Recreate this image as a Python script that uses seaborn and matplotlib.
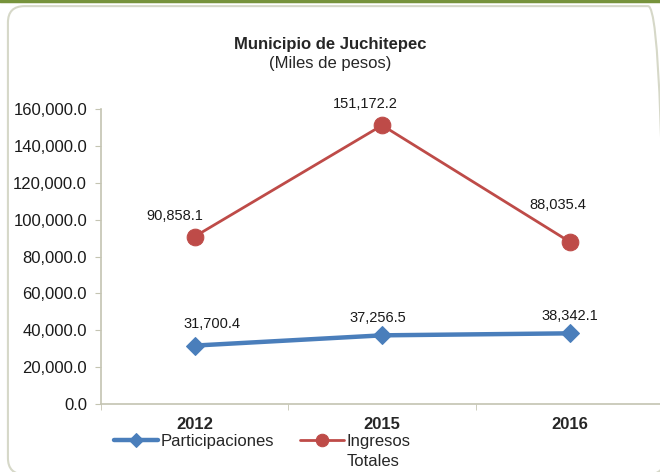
import numpy as np
import pandas as pd
import seaborn as sns
import matplotlib.pyplot as plt
from matplotlib.patches import FancyBboxPatch
from matplotlib.ticker import FuncFormatter

years = ["2012", "2015", "2016"]
participaciones = [31700.4, 37256.5, 38342.1]
ingresos_totales = [90858.1, 151172.2, 88035.4]
series_names = ["Participaciones", "Ingresos\nTotales"]
yticks = [0, 20000, 40000, 60000, 80000, 100000, 120000, 140000, 160000]

# label offsets in pixels (dx, dy above point)
offs_part = [(17, 22), (-4, 17), (0, 17)]
offs_ing = [(-20, 21), (-17, 21), (-12, 37)]

blue = "#4a7ebb"
red = "#be4b48"
axis_col = "#c4c4b2"

sns.set_style("white")
plt.rcParams["font.family"] = ["Liberation Sans", "DejaVu Sans"]

df = pd.DataFrame({"year": years * 2,
                   "value": participaciones + ingresos_totales,
                   "serie": [series_names[0]] * 3 + [series_names[1]] * 3})

fig = plt.figure(figsize=(6.6, 4.72), dpi=100)

# outer frame
fig.patches.append(FancyBboxPatch((0.012, -0.005), 0.995, 0.992,
                                  boxstyle="round,pad=0,rounding_size=0.025",
                                  mutation_aspect=660 / 472,
                                  transform=fig.transFigure, facecolor="none",
                                  edgecolor="#d6d8c8", linewidth=1.5, zorder=-1))
fig.add_artist(plt.Line2D([0, 1], [0.998, 0.998], transform=fig.transFigure,
                          color="#77933c", linewidth=2.5))

ax = fig.add_axes([0.153, 0.144, 0.852, 0.625])
ax.patch.set_alpha(0)

sns.lineplot(data=df[df.serie == series_names[0]], x="year", y="value", ax=ax,
             color=blue, linewidth=3.2, marker="D", markersize=9,
             markeredgecolor=blue, label=series_names[0], zorder=3)
sns.lineplot(data=df[df.serie == series_names[1]], x="year", y="value", ax=ax,
             color=red, linewidth=2.0, marker="o", markersize=12,
             markeredgecolor=red, label=series_names[1], zorder=3)

for vals, offs in [(participaciones, offs_part), (ingresos_totales, offs_ing)]:
    for i, (v, (dx, dy)) in enumerate(zip(vals, offs)):
        ax.annotate(f"{v:,.1f}", (i, v), xytext=(dx * 0.72, dy * 0.72),
                    textcoords="offset points", ha="center", va="center",
                    fontsize=10.5, color="#1a1a1a")

ax.set_xlim(-0.5, 2.5)
ax.set_ylim(0, 160000)
ax.set_yticks(yticks)
ax.yaxis.set_major_formatter(FuncFormatter(lambda v, p: f"{v:,.1f}"))
ax.set_xticks(range(3))
ax.set_xticklabels(years, fontweight="bold", fontsize=12)
ax.set_xticks([-0.5, 0.5, 1.5, 2.5], minor=True)
ax.tick_params(axis="x", which="major", length=0, pad=9)
ax.tick_params(axis="x", which="minor", length=4, color=axis_col, direction="out")
ax.tick_params(axis="y", length=4, color=axis_col, direction="out", pad=6,
               labelsize=12, labelcolor="#1a1a1a")
ax.tick_params(left=True, bottom=True, which="both")
ax.set_xlabel("")
ax.set_ylabel("")
for s in ["top", "right"]:
    ax.spines[s].set_visible(False)
for s in ["left", "bottom"]:
    ax.spines[s].set_color(axis_col)
    ax.spines[s].set_linewidth(1.2)

leg = ax.legend(loc="upper left", bbox_to_anchor=(0.012, -0.08), ncol=2,
                frameon=False, fontsize=12, handlelength=2.6, handletextpad=0.15,
                columnspacing=1.6, borderaxespad=0)
leg.legend_handles[0].set_markersize(7)
leg.legend_handles[1].set_markersize(9)
leg.get_texts()[1].set_linespacing(1.4)
# handle on the first line of the two-line label
leg._legend_handle_box.align = "top"
for col in leg._legend_handle_box.get_children():
    col.align = "top"
    for item in col.get_children():
        item.align = "top"

fig.text(0.5, 0.905, "Municipio de Juchitepec", ha="center", va="center",
         fontsize=12, fontweight="bold")
fig.text(0.5, 0.865, "(Miles de pesos)", ha="center", va="center", fontsize=12)

fig.savefig("out.png", dpi=100)
